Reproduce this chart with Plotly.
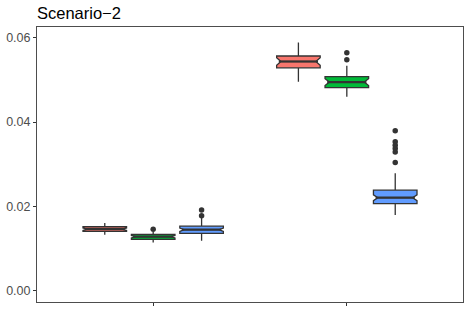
import plotly.graph_objects as go

# ---- data ----
groups = [1, 2]
series = ["A", "B", "C"]
colors = ["#F8766D", "#00BA38", "#619CFF"]

q1 = {"A": [0.0140, 0.0529], "B": [0.0121, 0.0482], "C": [0.0135, 0.0206]}
median = {"A": [0.01452, 0.0544], "B": [0.01274, 0.0495], "C": [0.0144, 0.0220]}
q3 = {"A": [0.0151, 0.0557], "B": [0.01326, 0.0508], "C": [0.01524, 0.0238]}
lowerfence = {"A": [0.0132, 0.0496], "B": [0.01136, 0.0460], "C": [0.01174, 0.0179]}
upperfence = {"A": [0.0160, 0.0589], "B": [0.0139, 0.0534], "C": [0.0172, 0.0278]}
notchspan = {"A": [0.0003, 0.0009], "B": [0.0003, 0.0008], "C": [0.0004, 0.0007]}

outliers_x = {"A": [], "B": [1, 2, 2], "C": [1, 1, 2, 2, 2, 2, 2, 2]}
outliers_y = {"A": [], "B": [0.0145, 0.0565, 0.0548],
              "C": [0.0191, 0.01769, 0.0379, 0.0353, 0.0345, 0.0337, 0.0329, 0.0304]}

yticks = [0.00, 0.02, 0.04, 0.06]
ytick_text = ["0.00", "0.02", "0.04", "0.06"]
title = "Scenario\u22122"

dodge = 0.25
box_w = 0.225
notch_w = 0.1

fig = go.Figure()
for i, s in enumerate(series):
    off = (i - 1) * dodge
    fig.add_trace(go.Box(
        x=[g + off for g in groups],
        q1=q1[s], median=median[s], q3=q3[s],
        lowerfence=lowerfence[s], upperfence=upperfence[s],
        notchspan=notchspan[s], notched=True, notchwidth=notch_w,
        width=box_w, whiskerwidth=0,
        fillcolor=colors[i],
        line=dict(color="#333333", width=1.3),
        boxpoints=False, showlegend=False, hoverinfo="skip",
    ))
    # thicker median segments (ggplot style)
    mx, my = [], []
    half = box_w / 2 * (1 - notch_w)
    for g, m in zip(groups, median[s]):
        mx += [g + off - half, g + off + half, None]
        my += [m, m, None]
    fig.add_trace(go.Scatter(
        x=mx, y=my, mode="lines",
        line=dict(color="#333333", width=2.2),
        showlegend=False, hoverinfo="skip",
    ))
    if outliers_y[s]:
        fig.add_trace(go.Scatter(
            x=[g + off for g in outliers_x[s]], y=outliers_y[s],
            mode="markers",
            marker=dict(color="#333333", size=5.5),
            showlegend=False, hoverinfo="skip",
        ))

fig.update_layout(
    width=469, height=312,
    margin=dict(l=37, r=6, t=27, b=10),
    paper_bgcolor="white", plot_bgcolor="white",
    title=dict(text=title, x=37 / 469, xanchor="left", y=1 - 13 / 312, yanchor="middle",
               font=dict(family="Liberation Sans, Arial, sans-serif", size=16.5, color="black")),
    font=dict(family="Liberation Sans, Arial, sans-serif"),
    showlegend=False,
)
fig.update_xaxes(
    range=[0.4, 2.6], tickvals=groups, ticktext=["", ""],
    ticks="outside", ticklen=3, tickcolor="#333333", tickwidth=1,
    showgrid=False, zeroline=False, automargin=False,
    showline=True, linecolor="#4D4D4D", linewidth=1, mirror=True,
)
fig.update_yaxes(
    range=[-0.0028, 0.0626], tickvals=yticks, ticktext=ytick_text,
    ticks="outside", ticklen=3, tickcolor="#333333", tickwidth=1,
    tickfont=dict(size=12.5, color="#4D4D4D"),
    showgrid=False, zeroline=False, automargin=False,
    showline=True, linecolor="#4D4D4D", linewidth=1, mirror=True,
)

fig.write_html("out.html", config={"displayModeBar": False},
               post_script="document.body.style.margin='0px';")
